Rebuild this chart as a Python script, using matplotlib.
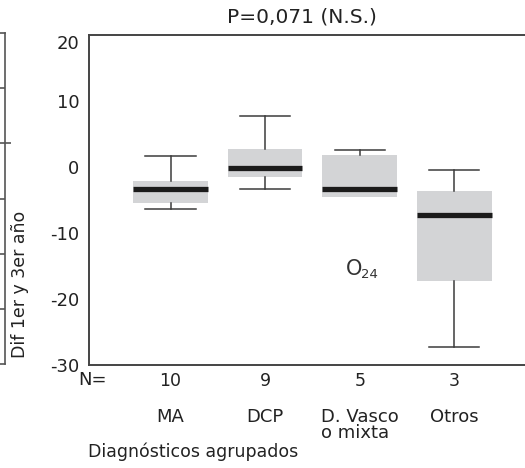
import matplotlib
matplotlib.use("Agg")
import matplotlib.pyplot as plt

plt.rcParams["font.family"] = ["DejaVu Sans"]

# ── data ─────────────────────────────────────────────────────────────────────
categories = ["MA", "DCP", "D. Vasco\no mixta", "Otros"]
n_counts = [10, 9, 5, 3]
whisker_low = [-6.3, -3.3, -4.5, -27.2]
q1 = [-5.4, -1.5, -4.5, -17.2]
medians = [-3.4, -0.2, -3.4, -7.2]
q3 = [-2.1, 2.7, 1.8, -3.6]
whisker_high = [1.7, 7.7, 2.6, -0.4]

outlier_group = [3]          # 1-based box position
outlier_value = [-15.4]
outlier_case = ["24"]

y_ticks = [20, 10, 0, -10, -20, -30]
left_panel_ticks = [1, 2, 3, 5]
left_panel_zero = [4]

title = "P=0,071 (N.S.)"
ylabel = "Dif 1er y 3er año"
xlabel = "Diagnósticos agrupados"

BOX_FILL = "#d3d4d6"
LINE = "#3c3c3c"
W, H = 525, 468

fig = plt.figure(figsize=(W / 100, H / 100), dpi=100)

# ── cut-off piece of the neighbouring panel on the far left ─────────────────
lp = fig.add_axes([-0.06, (H - 364) / H, 0.06 + 5.3 / W, (364 - 33) / H])
lp.set_xlim(0, 1)
lp.set_ylim(0, 6)
lp.spines["left"].set_visible(False)
for s in ["top", "bottom", "right"]:
    lp.spines[s].set_color("#555555")
    lp.spines[s].set_linewidth(1.2)
lp.set_xticks([])
lp.yaxis.tick_right()
lp.set_yticks(left_panel_ticks)
lp.set_yticks(left_panel_zero, minor=True)
lp.tick_params(axis="y", which="major", direction="in", length=7,
               width=1.2, color="#555555", labelright=False)
lp.tick_params(axis="y", which="minor", direction="inout", length=8,
               width=1.2, color="#555555", labelright=False)

# ── main box plot ────────────────────────────────────────────────────────────
ax = fig.add_axes([89 / W, (H - 365) / H, 1 - 89 / W, (365 - 35) / H])

positions = list(range(1, len(categories) + 1))
stats = []
for i in range(len(categories)):
    stats.append(dict(med=medians[i], q1=q1[i], q3=q3[i],
                      whislo=whisker_low[i], whishi=whisker_high[i], fliers=[]))

art = ax.bxp(stats, positions=positions, widths=0.79, capwidths=0.53,
             patch_artist=True, showfliers=False,
             boxprops=dict(facecolor=BOX_FILL, edgecolor=BOX_FILL, linewidth=0),
             medianprops=dict(color="#1b1b1b", linewidth=3.8, solid_capstyle="butt"),
             whiskerprops=dict(color=LINE, linewidth=1.1),
             capprops=dict(color=LINE, linewidth=1.1))

# zero-length whisker: no lower cap drawn in the original
for i in range(len(categories)):
    if whisker_low[i] == q1[i]:
        art["caps"][2 * i].set_visible(False)
        art["whiskers"][2 * i].set_visible(False)

# outlier marked with its case number
for g, v, c in zip(outlier_group, outlier_value, outlier_case):
    ax.annotate("O", xy=(g, v), xytext=(-4, 0), textcoords="offset points",
                ha="center", va="center", fontsize=15, color="#333333")
    ax.annotate(c, xy=(g, v), xytext=(1.2, -4), textcoords="offset points",
                ha="left", va="center", fontsize=9.5, color="#333333")

ax.set_xlim(0.1385, 4.747)
ax.set_ylim(-30, 20)
ax.set_yticks(y_ticks)
ax.set_yticklabels([str(t) for t in y_ticks])
ax.tick_params(axis="y", length=0, pad=7, labelsize=13, labelcolor="#222222")
ax.get_yticklabels()[0].set_va("top")

ax.set_xticks(positions)
ax.set_xticklabels(categories, linespacing=0.82)
ax.tick_params(axis="x", length=0, pad=31, labelsize=13, labelcolor="#222222")
for lab in ax.get_xticklabels():
    lab.set_multialignment("left")

ax.spines["right"].set_visible(False)
for s in ["top", "left", "bottom"]:
    ax.spines[s].set_color("#444444")
    ax.spines[s].set_linewidth(1.4)

# N row under the axis
for p, n in zip(positions, n_counts):
    ax.text(p, -0.05, str(n), transform=ax.get_xaxis_transform(),
            ha="center", va="center", fontsize=12.5, color="#222222")
fig.text(93 / W, 1 - 380 / H, "N=", ha="center", va="center",
         fontsize=13, color="#222222")

fig.text(302 / W, 1 - 17 / H, title, ha="center", va="center",
         fontsize=14.5, color="#222222")
fig.text(20 / W, 1 - 284.5 / H, ylabel, rotation=90, ha="center", va="center",
         fontsize=12.5, color="#222222")
fig.text(88 / W, 1 - 457 / H, xlabel, ha="left", va="baseline",
         fontsize=12.5, color="#222222")

fig.savefig("out.png", dpi=100)
